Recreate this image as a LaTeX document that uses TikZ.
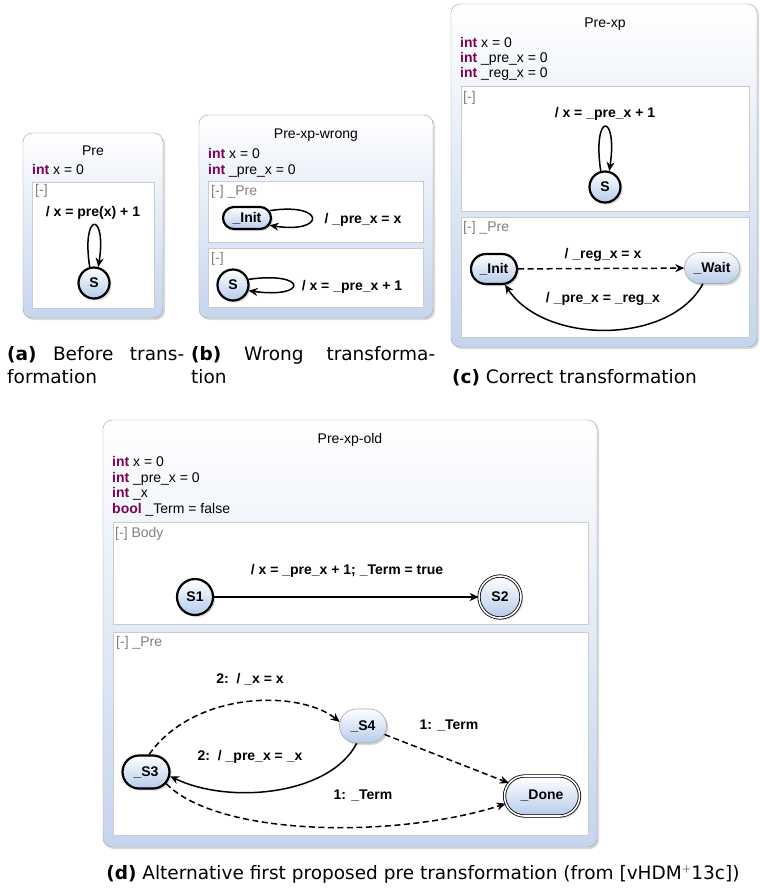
\documentclass[tikz,border=0pt]{standalone}
\usepackage{fontspec}
\setmainfont{DejaVu Sans}
\newfontfamily\kfont{Liberation Sans}
\usetikzlibrary{arrows.meta,shapes.misc,shadows}

\definecolor{boxblue}{RGB}{197,213,238}
\definecolor{stateblue}{RGB}{182,203,236}
\definecolor{kwcolor}{RGB}{127,0,85}
\newcommand{\kw}[1]{\textbf{\color{kwcolor}#1}}

\tikzset{
  kshadow/.style={drop shadow={shadow xshift=2pt,shadow yshift=-2pt,opacity=.3}},
  outerbox/.style={draw=gray!75,rounded corners=9pt,top color=white,bottom color=boxblue,kshadow},
  regionbox/.style={draw=gray!40,fill=white},
  kstate/.style={top color=white,bottom color=stateblue,kshadow,font=\kfont\bfseries\fontsize{14}{16}\selectfont,inner sep=1pt},
  initstate/.style={kstate,draw=black,line width=2.2pt},
  plainstate/.style={kstate,draw=gray!70,line width=.6pt},
  finalstate/.style={kstate,draw=black,line width=.8pt,double,double distance=1.6pt},
  pill/.style={rounded rectangle,minimum height=#1},
  trans/.style={->,line width=1.5pt},
  dashtrans/.style={trans,dash pattern=on 6pt off 3.5pt},
  lbl/.style={anchor=base,font=\kfont\bfseries\fontsize{14}{16}\selectfont,inner sep=0pt},
  decl/.style={anchor=base west,inner sep=0pt},
  regtitle/.style={anchor=base west,inner sep=0pt,text=gray},
  subcap/.style={anchor=base west,inner sep=0pt,font=\fontsize{18.5}{23}\selectfont},
}

\begin{document}
\begin{tikzpicture}[x=1pt,y=1pt,>={Stealth[length=9pt,width=8pt]},
  font=\kfont\fontsize{14}{16}\selectfont]
  \useasboundingbox (0,0) rectangle (760,-892);

  % (a) Pre
  \draw[outerbox] (23,-133) rectangle (163,-318);
  \node[anchor=base,inner sep=0pt] (titleA) at (93,-155) {Pre};
  \node[decl] (declA) at (32,-174) {\kw{int} x = 0};
  \draw[regionbox] (32,-182) rectangle (154,-308);
  \node[regtitle] (regA) at (35,-194) {[-]};
  \node[lbl] (lblA) at (93,-216) {/ x = pre(x) + 1};
  \node[initstate,circle,minimum size=31pt] (sA) at (94,-283) {S};
  \draw[trans] (sA.105) .. controls (81,-211) and (107,-211) .. (sA.75);

  % (b) Pre-xp-wrong
  \draw[outerbox] (199,-115) rectangle (433,-318);
  \node[anchor=base,inner sep=0pt] (titleB) at (316,-138) {Pre-xp-wrong};
  \node[decl] (declB1) at (208,-158) {\kw{int} x = 0};
  \node[decl] (declB2) at (208,-174) {\kw{int} \_pre\_x = 0};
  \draw[regionbox] (208,-181) rectangle (423,-242);
  \node[regtitle] (regB1) at (211,-195) {[-] \_Pre};
  \node[initstate,pill=22pt,minimum width=50pt] (initB) at (247,-218) {\_Init};
  \draw[trans] (initB.18) .. controls (326,-202) and (326,-234) .. (initB.-18);
  \node[lbl] (lblB1) at (363,-223) {/ \_pre\_x = x};
  \draw[regionbox] (208,-248) rectangle (423,-307);
  \node[regtitle] (regB2) at (211,-262) {[-]};
  \node[initstate,circle,minimum size=31pt] (sB) at (233,-285) {S};
  \draw[trans] (sB.20) .. controls (308,-271) and (308,-299) .. (sB.-20);
  \node[lbl] (lblB2) at (352,-290) {/ x = \_pre\_x + 1};

  % (c) Pre-xp
  \draw[outerbox] (451,-4) rectangle (757,-347);
  \node[anchor=base,inner sep=0pt] (titleC) at (605,-27) {Pre-xp};
  \node[decl] (declC1) at (460,-47) {\kw{int} x = 0};
  \node[decl] (declC2) at (460,-62) {\kw{int} \_pre\_x = 0};
  \node[decl] (declC3) at (460,-77) {\kw{int} \_reg\_x = 0};
  \draw[regionbox] (461,-86) rectangle (749,-211);
  \node[regtitle] (regC1) at (463,-101) {[-]};
  \node[lbl] (lblC1) at (605,-117) {/ x = \_pre\_x + 1};
  \node[initstate,circle,minimum size=31pt] (sC) at (605,-187) {S};
  \draw[trans] (sC.105) .. controls (592,-112) and (618,-112) .. (sC.75);
  \draw[regionbox] (461,-217) rectangle (749,-337);
  \node[regtitle] (regC2) at (463,-231) {[-] \_Pre};
  \node[initstate,pill=30pt,minimum width=48pt] (initC) at (494,-269) {\_Init};
  \node[plainstate,pill=31pt,minimum width=57pt] (waitC) at (712,-268) {\_Wait};
  \draw[dashtrans] (initC) -- (waitC);
  \node[lbl] (lblC2) at (603,-258) {/ \_reg\_x = x};
  \draw[trans] (waitC.240) .. controls (670,-345) and (545,-345) .. (initC.-55);
  \node[lbl] (lblC3) at (603,-302) {/ \_pre\_x = \_reg\_x};

  % (d) Pre-xp-old
  \draw[outerbox] (103,-420) rectangle (597,-847);
  \node[anchor=base,inner sep=0pt] (titleD) at (350,-443) {Pre-xp-old};
  \node[decl] (declD1) at (112,-466) {\kw{int} x = 0};
  \node[decl] (declD2) at (112,-482) {\kw{int} \_pre\_x = 0};
  \node[decl] (declD3) at (112,-497) {\kw{int} \_x};
  \node[decl] (declD4) at (112,-513) {\kw{bool} \_Term = false};
  \draw[regionbox] (113,-522) rectangle (588,-624);
  \node[regtitle] (regD1) at (115,-537) {[-] Body};
  \node[initstate,circle,minimum size=36pt] (s1) at (195,-597) {S1};
  \node[finalstate,circle,minimum size=42pt] (s2) at (500,-597) {S2};
  \draw[trans] (s1) -- (s2);
  \node[lbl] (lblD1) at (347,-574) {/ x = \_pre\_x + 1; \_Term = true};
  \draw[regionbox] (113,-632) rectangle (588,-835);
  \node[regtitle] (regD2) at (116,-646) {[-] \_Pre};
  \node[initstate,pill=33pt,minimum width=49pt] (s3) at (146,-772) {\_S3};
  \node[plainstate,pill=34pt,minimum width=49pt] (s4) at (363,-726) {\_S4};
  \node[finalstate,pill=40pt,minimum width=77pt] (done) at (542,-796) {\_Done};
  \draw[dashtrans] (s3.80) .. controls (195,-690) and (300,-690) .. (s4.170);
  \node[lbl] (lblD2) at (250,-683) {2:\ \ / \_x = x};
  \draw[trans] (s4.250) .. controls (330,-795) and (230,-805) .. (s3.-10);
  \node[lbl] (lblD3) at (250,-760) {2:\ \ / \_pre\_x = \_x};
  \draw[dashtrans] (s4) -- (done);
  \node[lbl] (lblD4) at (449,-729) {1: \_Term};
  \draw[dashtrans] (s3.-30) .. controls (220,-838) and (400,-838) .. (done.192);
  \node[lbl] (lblD5) at (363,-799) {1: \_Term};

  % captions
  \node[subcap] (capA1) at (7,-360) {\hbox to 177pt{\textbf{(a)}\hfill Before\hfill trans-}};
  \node[subcap] (capA2) at (7,-383) {formation};
  \node[subcap] (capB1) at (191,-360) {\hbox to 244pt{\textbf{(b)}\hfill Wrong\hfill transforma-}};
  \node[subcap] (capB2) at (191,-383) {tion};
  \node[subcap] (capC) at (452,-383) {\textbf{(c)} Correct transformation};
  \node[subcap,anchor=base] (capD) at (423,-879) {\textbf{(d)} Alternative first proposed pre transformation (from [vHDM$^{+}$13c])};
\end{tikzpicture}
\end{document}
